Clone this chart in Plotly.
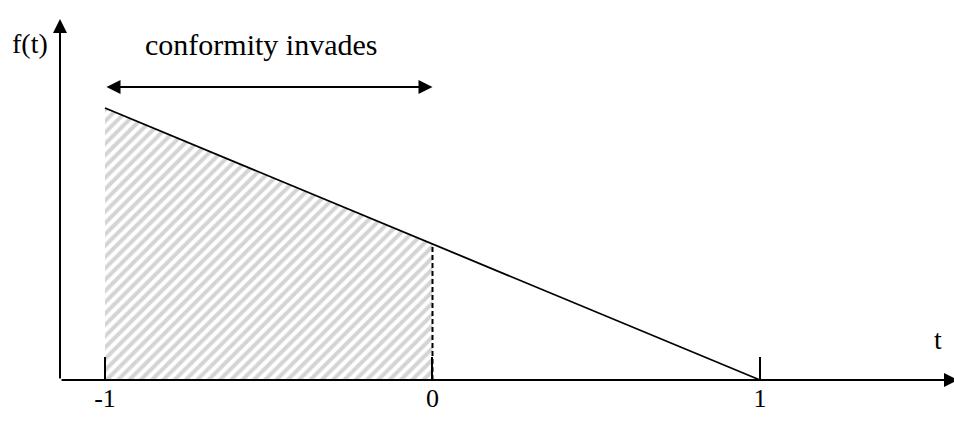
import plotly.graph_objects as go

# data
t_values = [-1, 0, 1]
f_values = [1.0, 0.5, 0.0]
shade_t = [-1, 0]
shade_f = [1.0, 0.5]
tick_vals = [-1, 0, 1]
tick_text = ["-1", "0", "1"]
region_label = "conformity invades"

FONT = "Liberation Serif, Times New Roman, serif"
W, H = 954, 422
xr = [-1.3206, 1.5924]
yr = [-0.1544, 1.397]

def tx(px):
    return xr[0] + px / W * (xr[1] - xr[0])

def fy(py):
    return yr[1] - py / H * (yr[1] - yr[0])

fig = go.Figure()

# hatched region
fig.add_trace(go.Scatter(
    x=shade_t, y=shade_f, mode="lines", fill="tozeroy",
    line=dict(width=0, color="rgba(0,0,0,0)"),
    fillcolor="white",
    fillpattern=dict(shape="/", fgcolor="#a9a9a9", bgcolor="white", size=8, solidity=0.5),
    hoverinfo="skip", showlegend=False))

# f(t) line
fig.add_trace(go.Scatter(
    x=t_values, y=f_values, mode="lines",
    line=dict(color="black", width=1.8), showlegend=False, hoverinfo="skip"))

# dashed vertical at t=0
fig.add_trace(go.Scatter(
    x=[shade_t[-1], shade_t[-1]], y=[0, shade_f[-1]], mode="lines",
    line=dict(color="black", width=2, dash="5px,3px"), showlegend=False, hoverinfo="skip"))

y_axis_t = tx(60)
annotations = [
    # y axis arrow
    dict(x=y_axis_t, y=fy(19), ax=y_axis_t, ay=0, xref="x", yref="y", axref="x", ayref="y",
         showarrow=True, arrowhead=2, arrowsize=1.4, arrowwidth=2, arrowcolor="black", text=""),
    # x axis arrow
    dict(x=tx(958), y=0, ax=y_axis_t, ay=0, xref="x", yref="y", axref="x", ayref="y",
         showarrow=True, arrowhead=2, arrowsize=1.4, arrowwidth=2, arrowcolor="black", text=""),
    # double arrow
    dict(x=shade_t[-1], y=fy(87), ax=shade_t[0], ay=fy(87), xref="x", yref="y", axref="x", ayref="y",
         showarrow=True, arrowhead=2, startarrowhead=2, arrowside="end+start",
         arrowsize=1.4, startarrowsize=1.4, arrowwidth=2, arrowcolor="black", text=""),
    dict(x=(shade_t[0] + shade_t[-1]) / 2, y=fy(44), xref="x", yref="y", showarrow=False,
         text=region_label, xshift=-8, font=dict(family=FONT, size=30, color="black")),
    dict(x=tx(30), y=fy(43), xref="x", yref="y", showarrow=False,
         text="f(t)", font=dict(family=FONT, size=28, color="black")),
    dict(x=tx(938), y=fy(339), xref="x", yref="y", showarrow=False,
         text="t", font=dict(family=FONT, size=28, color="black")),
]

fig.update_layout(
    width=W, height=H,
    margin=dict(l=0, r=0, t=0, b=0),
    paper_bgcolor="white", plot_bgcolor="white",
    showlegend=False,
    annotations=annotations,
    xaxis=dict(range=xr, showgrid=False, zeroline=False, showline=False,
               anchor="free", position=42 / H,
               ticks="inside", ticklen=23, tickwidth=2, tickcolor="black",
               tickvals=tick_vals, ticktext=tick_text,
               tickfont=dict(family=FONT, size=26, color="black")),
    yaxis=dict(range=yr, visible=False),
)

fig.write_html("out.html", config={"displayModeBar": False},
               post_script="document.body.style.margin='0px';document.body.style.overflow='hidden';")
